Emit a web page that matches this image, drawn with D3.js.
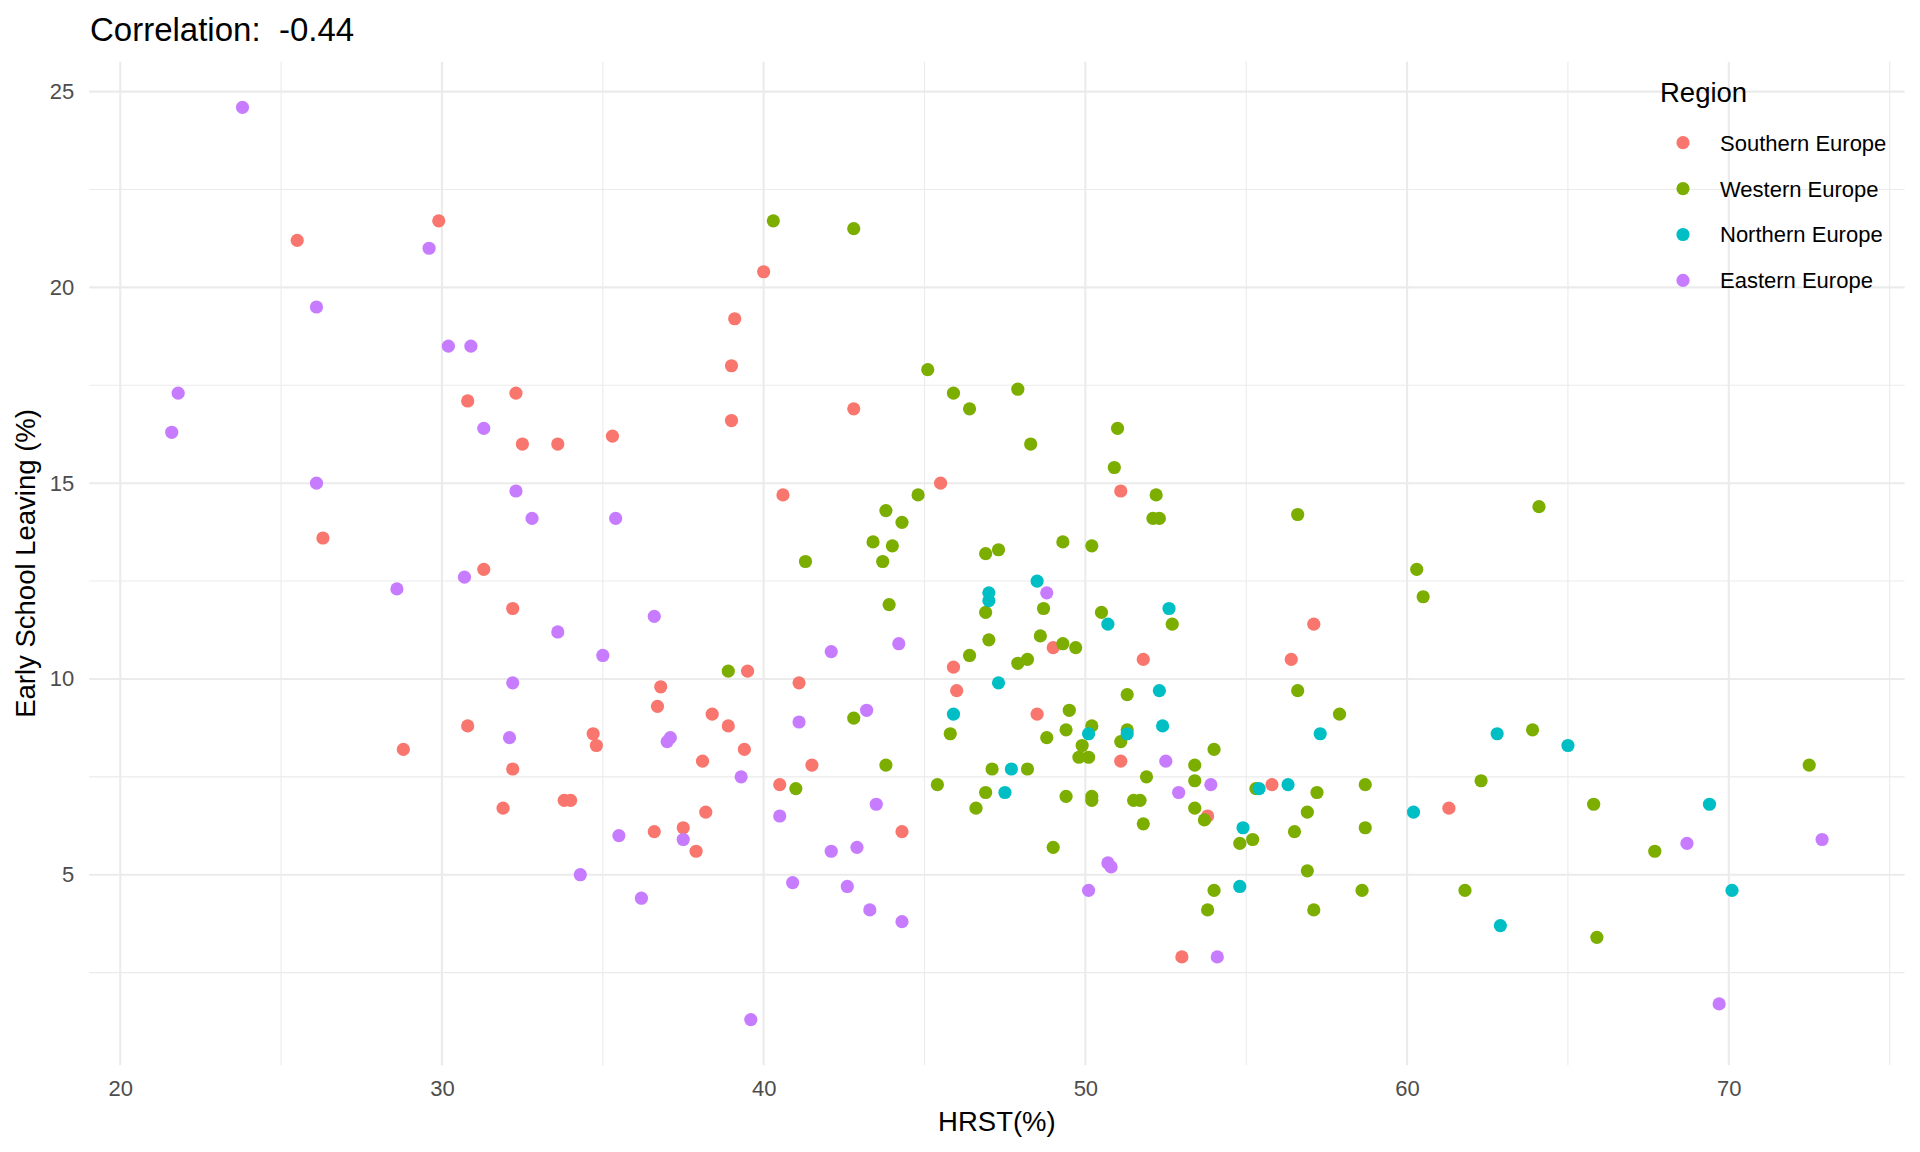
<!DOCTYPE html>
<html>
<head>
<meta charset="utf-8">
<script src="https://cdn.jsdelivr.net/npm/d3@7"></script>
<style>
  body { margin: 0; background: #fff; }
  text { font-family: "Liberation Sans", Arial, sans-serif; }
</style>
</head>
<body>
<div class="container"></div>
<script>
// regions, in legend order
var regions = ["Southern Europe", "Western Europe", "Northern Europe", "Eastern Europe"];
var regionColors = ["#F8766D", "#7CAE00", "#00BFC4", "#C77CFF"];

// [HRST %, early school leaving %]
var southern = [
    [25.5,21.2],[29.9,21.7],[32.3,17.3],[30.8,17.1],[32.5,16.0],[33.6,16.0],[35.3,16.2],
    [26.3,13.6],[31.3,12.8],[32.2,11.8],[36.8,9.8],[36.7,9.3],[30.8,8.8],[34.7,8.6],
    [34.8,8.3],[28.8,8.2],[32.2,7.7],[33.8,6.9],[34.0,6.9],[31.9,6.7],[36.6,6.1],
    [37.5,6.2],[37.9,5.6],[38.2,6.6],[38.1,7.9],[40.0,20.4],[39.1,19.2],[39.0,18.0],
    [39.0,16.6],[42.8,16.9],[45.5,15.0],[40.6,14.7],[51.1,14.8],[45.9,10.3],[39.5,10.2],
    [41.1,9.9],[46.0,9.7],[38.4,9.1],[38.9,8.8],[39.4,8.2],[41.5,7.8],[40.5,7.3],
    [44.3,6.1],[57.1,11.4],[49.0,10.8],[51.8,10.5],[56.4,10.5],[48.5,9.1],[51.1,7.9],
    [55.8,7.3],[53.8,6.5],[53.0,2.9],[61.3,6.7]
];
var western = [
    [40.3,21.7],[42.8,21.5],[45.1,17.9],[45.9,17.3],[47.9,17.4],[46.4,16.9],[51.0,16.4],
    [48.3,16.0],[50.9,15.4],[44.8,14.7],[52.2,14.7],[43.8,14.3],[44.3,14.0],[52.1,14.1],
    [52.3,14.1],[56.6,14.2],[43.4,13.5],[44.0,13.4],[49.3,13.5],[50.2,13.4],[41.3,13.0],
    [43.7,13.0],[46.9,13.2],[47.3,13.3],[46.9,11.7],[43.9,11.9],[47.0,11.0],[46.4,10.6],
    [38.9,10.2],[42.8,9.0],[45.8,8.6],[43.8,7.8],[47.1,7.7],[41.0,7.2],[45.4,7.3],
    [46.9,7.1],[46.6,6.7],[48.7,11.8],[50.5,11.7],[52.7,11.4],[48.6,11.1],[49.3,10.9],
    [49.7,10.8],[47.9,10.4],[48.2,10.5],[51.3,9.6],[56.6,9.7],[49.5,9.2],[50.2,8.8],
    [49.4,8.7],[48.8,8.5],[51.3,8.7],[51.1,8.4],[49.9,8.3],[49.8,8.0],[50.1,8.0],
    [54.0,8.2],[48.2,7.7],[53.4,7.8],[51.9,7.5],[53.4,7.4],[55.3,7.2],[57.2,7.1],
    [49.4,7.0],[50.2,7.0],[50.2,6.9],[51.5,6.9],[51.7,6.9],[53.4,6.7],[53.7,6.4],
    [56.9,6.6],[51.8,6.3],[56.5,6.1],[49.0,5.7],[54.8,5.8],[55.2,5.9],[56.9,5.1],
    [54.0,4.6],[53.8,4.1],[57.1,4.1],[64.1,14.4],[60.3,12.8],[60.5,12.1],[57.9,9.1],
    [63.9,8.7],[72.5,7.8],[62.3,7.4],[58.7,7.3],[65.8,6.8],[58.7,6.2],[67.7,5.6],
    [58.6,4.6],[61.8,4.6],[65.9,3.4]
];
var northern = [
    [48.5,12.5],[47.0,12.2],[47.0,12.0],[47.3,9.9],[45.9,9.1],[47.7,7.7],[47.5,7.1],
    [52.6,11.8],[50.7,11.4],[52.3,9.7],[50.1,8.6],[51.3,8.6],[52.4,8.8],[57.3,8.6],
    [55.4,7.2],[56.3,7.3],[54.9,6.2],[54.8,4.7],[62.8,8.6],[65.0,8.3],[60.2,6.6],
    [69.4,6.8],[70.1,4.6],[62.9,3.7]
];
var eastern = [
    [23.8,24.6],[29.6,21.0],[26.1,19.5],[30.2,18.5],[30.9,18.5],[21.8,17.3],[31.3,16.4],
    [21.6,16.3],[26.1,15.0],[32.3,14.8],[32.8,14.1],[35.4,14.1],[30.7,12.6],[28.6,12.3],
    [36.6,11.6],[33.6,11.2],[35.0,10.6],[32.2,9.9],[32.1,8.5],[37.1,8.5],[37.0,8.4],
    [35.5,6.0],[37.5,5.9],[34.3,5.0],[36.2,4.4],[44.2,10.9],[42.1,10.7],[43.2,9.2],
    [41.1,8.9],[39.3,7.5],[43.5,6.8],[40.5,6.5],[42.1,5.6],[42.9,5.7],[40.9,4.8],
    [42.6,4.7],[43.3,4.1],[44.3,3.8],[39.6,1.3],[48.8,12.2],[52.5,7.9],[53.9,7.3],
    [52.9,7.1],[50.7,5.3],[50.8,5.2],[50.1,4.6],[54.1,2.9],[68.7,5.8],[72.9,5.9],
    [69.7,1.7]
];
var seriesByRegion = [southern, western, northern, eastern];

var xMajor = [20, 30, 40, 50, 60, 70];
var yMajor = [5, 10, 15, 20, 25];
var titleText = "Correlation:  -0.44";
var xTitle = "HRST(%)";
var yTitle = "Early School Leaving (%)";
var legendTitle = "Region";

var width = 1920, height = 1152;
var panel = {left: 89.2, right: 1904.6, top: 61.7, bottom: 1065.2};

// flatten for drawing
var points = [];
seriesByRegion.forEach(function(arr, i) {
    arr.forEach(function(d) { points.push({x: d[0], y: d[1], region: regions[i]}); });
});

// ggplot style 5% expansion
function expand(ext) {
    var pad = (ext[1] - ext[0]) * 0.05;
    return [ext[0] - pad, ext[1] + pad];
}
var xDomain = expand(d3.extent(points, d => d.x));
var yDomain = expand(d3.extent(points, d => d.y));

var x = d3.scaleLinear().domain(xDomain).range([panel.left, panel.right]);
var y = d3.scaleLinear().domain(yDomain).range([panel.bottom, panel.top]);
var color = d3.scaleOrdinal().domain(regions).range(regionColors);

var svg = d3.select(".container").append("svg")
    .attr("width", width)
    .attr("height", height);

// minor grid (halfway between majors)
var xMinor = d3.range(15, 80, 10).filter(v => v > xDomain[0] && v < xDomain[1]);
var yMinor = d3.range(0, 30, 5).map(v => v + 2.5).filter(v => v > yDomain[0] && v < yDomain[1]);

var grid = svg.append("g").attr("class", "grid");
grid.selectAll(".xminor").data(xMinor).enter().append("line")
    .attr("x1", d => x(d)).attr("x2", d => x(d))
    .attr("y1", panel.top).attr("y2", panel.bottom)
    .attr("stroke", "#EBEBEB").attr("stroke-width", 1.1);
grid.selectAll(".yminor").data(yMinor).enter().append("line")
    .attr("y1", d => y(d)).attr("y2", d => y(d))
    .attr("x1", panel.left).attr("x2", panel.right)
    .attr("stroke", "#EBEBEB").attr("stroke-width", 1.1);
grid.selectAll(".xmajor").data(xMajor).enter().append("line")
    .attr("x1", d => x(d)).attr("x2", d => x(d))
    .attr("y1", panel.top).attr("y2", panel.bottom)
    .attr("stroke", "#EBEBEB").attr("stroke-width", 2.1);
grid.selectAll(".ymajor").data(yMajor).enter().append("line")
    .attr("y1", d => y(d)).attr("y2", d => y(d))
    .attr("x1", panel.left).attr("x2", panel.right)
    .attr("stroke", "#EBEBEB").attr("stroke-width", 2.1);

// axes (labels only, like theme_minimal)
var xAxis = svg.append("g")
    .attr("transform", "translate(0," + (panel.bottom + 4) + ")")
    .call(d3.axisBottom(x).tickValues(xMajor).tickSize(0).tickPadding(11));
var yAxis = svg.append("g")
    .attr("transform", "translate(" + (panel.left - 4) + ",0)")
    .call(d3.axisLeft(y).tickValues(yMajor).tickSize(0).tickPadding(11));
[xAxis, yAxis].forEach(function(a) {
    a.select(".domain").remove();
    a.selectAll("text")
        .attr("fill", "#4D4D4D")
        .style("font-size", "22px")
        .style("font-family", '"Liberation Sans", Arial, sans-serif');
});

// points
svg.append("g").selectAll("circle")
    .data(points)
    .enter()
        .append("circle")
        .attr("cx", d => x(d.x))
        .attr("cy", d => y(d.y))
        .attr("r", 6.6)
        .attr("fill", d => color(d.region));

// titles
svg.append("text")
    .attr("x", 90)
    .attr("y", 41)
    .style("font-size", "33px")
    .style("white-space", "pre")
    .attr("fill", "#000")
    .text(titleText);

svg.append("text")
    .attr("x", (panel.left + panel.right) / 2)
    .attr("y", 1131)
    .attr("text-anchor", "middle")
    .style("font-size", "27.5px")
    .attr("fill", "#000")
    .text(xTitle);

svg.append("text")
    .attr("transform", "translate(35," + ((panel.top + panel.bottom) / 2) + ") rotate(-90)")
    .attr("text-anchor", "middle")
    .style("font-size", "27.5px")
    .attr("fill", "#000")
    .text(yTitle);

// legend
var legend = svg.append("g").attr("class", "legend");
legend.append("text")
    .attr("x", 1660)
    .attr("y", 102)
    .style("font-size", "27.5px")
    .attr("fill", "#000")
    .text(legendTitle);

var items = legend.selectAll(".item")
    .data(regions)
    .enter()
        .append("g")
        .attr("transform", (d, i) => "translate(0," + (142.7 + i * 45.9) + ")");
items.append("circle")
    .attr("cx", 1683)
    .attr("cy", 0)
    .attr("r", 6.6)
    .attr("fill", d => color(d));
items.append("text")
    .attr("x", 1720)
    .attr("y", 0)
    .attr("dy", "0.36em")
    .style("font-size", "22px")
    .attr("fill", "#000")
    .text(d => d);
</script>
</body>
</html>
